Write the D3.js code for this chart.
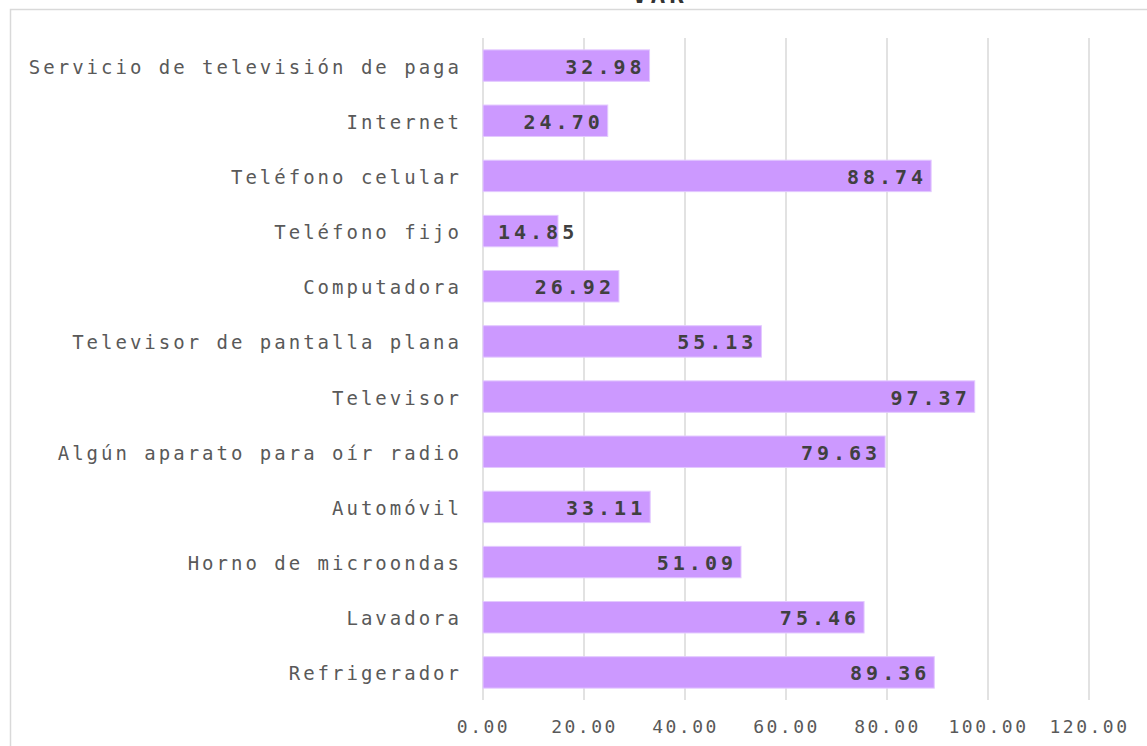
<!DOCTYPE html>
<html>
<head>
<meta charset="utf-8">
<script src="https://cdn.jsdelivr.net/npm/d3@7"></script>
<style>
  body { margin: 0; background: #fff; overflow: hidden; }
  .axisText { font-family: "DejaVu Sans Mono", monospace; fill: #595959; }
</style>
</head>
<body>
<div id="chart"></div>
<script>
// data, top to bottom as shown
var categories = [
  "Servicio de televisión de paga",
  "Internet",
  "Teléfono celular",
  "Teléfono fijo",
  "Computadora",
  "Televisor de pantalla plana",
  "Televisor",
  "Algún aparato para oír radio",
  "Automóvil",
  "Horno de microondas",
  "Lavadora",
  "Refrigerador"
];
var values = [32.98, 24.70, 88.74, 14.85, 26.92, 55.13, 97.37, 79.63, 33.11, 51.09, 75.46, 89.36];
var tickValues = [0, 20, 40, 60, 80, 100, 120];
var title = "VAR";

var svgWidth = 1147;
var svgHeight = 746;

var margin = { top: 38, left: 483, right: 58, bottom: 46 };
var width = 1089 - margin.left;
var height = 700 - margin.top;

var svg = d3.select("#chart")
  .append("svg")
  .attr("width", svgWidth)
  .attr("height", svgHeight);

// chart area frame (runs off the right/bottom edge)
svg.append("rect")
  .attr("x", 10.5)
  .attr("y", 9.5)
  .attr("width", 1400)
  .attr("height", 900)
  .attr("fill", "none")
  .attr("stroke", "#d9d9d9")
  .attr("stroke-width", 1.5);

// title, mostly cut off at the top like the reference
svg.append("text")
  .attr("x", 660)
  .attr("y", 3)
  .attr("text-anchor", "middle")
  .attr("font-family", "DejaVu Sans Mono, monospace")
  .attr("font-weight", "bold")
  .attr("font-size", 24)
  .attr("letter-spacing", 4)
  .attr("fill", "#333")
  .text(title);

var chartGroup = svg.append("g")
  .attr("transform", `translate(${margin.left}, ${margin.top})`);

var x = d3.scaleLinear()
  .domain([0, 120])
  .range([0, width]);

var y = d3.scaleBand()
  .domain(categories)
  .range([0, height])
  .paddingInner(0.43)
  .paddingOuter(0.215);

// vertical gridlines
chartGroup.append("g")
  .selectAll("line")
  .data(tickValues)
  .enter()
  .append("line")
  .attr("x1", d => x(d))
  .attr("x2", d => x(d))
  .attr("y1", 0)
  .attr("y2", height)
  .attr("stroke", "#d9d9d9")
  .attr("stroke-width", 1.5);

// bottom axis labels
var bottomAxis = d3.axisBottom(x)
  .tickValues(tickValues)
  .tickSize(0)
  .tickPadding(20)
  .tickFormat(d3.format(".2f"));

var xAxis = chartGroup.append("g")
  .attr("transform", `translate(0, ${height})`)
  .call(bottomAxis);
xAxis.select(".domain").remove();
xAxis.selectAll("text")
  .attr("class", "axisText")
  .attr("font-size", 18)
  .attr("letter-spacing", 2.5);

// left axis labels
var leftAxis = d3.axisLeft(y)
  .tickSize(0)
  .tickPadding(21);

var yAxis = chartGroup.append("g").call(leftAxis);
yAxis.select(".domain").remove();
yAxis.selectAll("text")
  .attr("class", "axisText")
  .attr("font-size", 19)
  .attr("letter-spacing", 3)
  .attr("dy", "0.42em");

// bars
var rows = categories.map((c, i) => ({ cat: c, val: values[i] }));

chartGroup.append("g")
  .selectAll("rect")
  .data(rows)
  .enter()
  .append("rect")
  .attr("x", 0)
  .attr("y", d => y(d.cat))
  .attr("width", d => x(d.val))
  .attr("height", y.bandwidth())
  .attr("fill", "#cc99ff")
  .attr("stroke", "#e3c9ff")
  .attr("stroke-width", 1);

// value labels, inside end
var labels = chartGroup.append("g")
  .selectAll("text")
  .data(rows)
  .enter()
  .append("text")
  .attr("font-family", "DejaVu Sans Mono, monospace")
  .attr("font-weight", "bold")
  .attr("font-size", 20)
  .attr("letter-spacing", 4)
  .attr("fill", "#404040")
  .attr("dy", "0.4em")
  .attr("y", d => y(d.cat) + y.bandwidth() / 2)
  .attr("text-anchor", "end")
  .text(d => d.val.toFixed(2));

labels.attr("x", function(d) {
  var w = this.getComputedTextLength();
  return Math.max(x(d.val) - 4, 15 + w);
});
</script>
</body>
</html>
